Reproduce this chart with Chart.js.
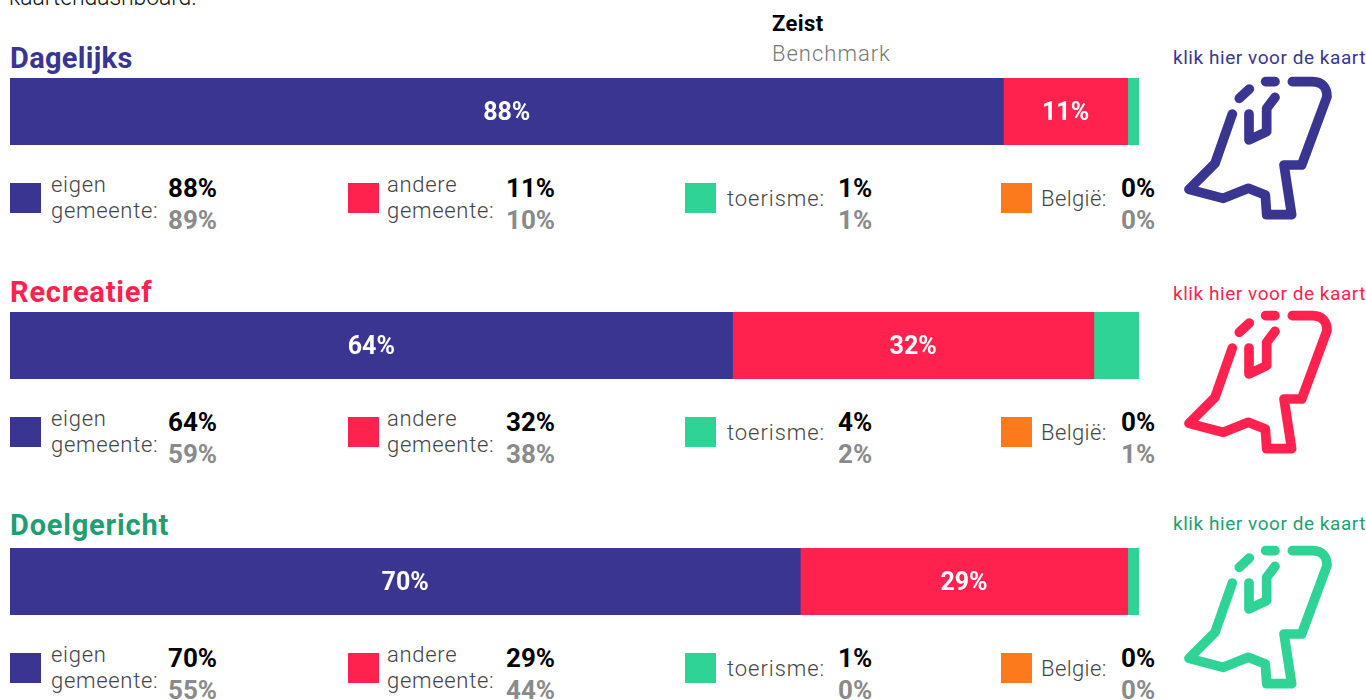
<!DOCTYPE html>
<html lang="nl">
<head>
<meta charset="utf-8">
<title>Verplaatsingen</title>
<script src="https://cdn.jsdelivr.net/npm/chart.js@4"></script>
<style>
    html, body { margin: 0; padding: 0; background: #fff; overflow: hidden; }
    body { width: 1366px; height: 700px; position: relative; font-family: Roboto, sans-serif; }
    canvas { position: absolute; left: 10px; }
    .txt { position: absolute; white-space: nowrap; line-height: 1; transform-origin: 0 0; }
    .swatch { position: absolute; width: 31px; height: 30px; }
    .map { position: absolute; left: 1150px; width: 216px; height: 190px; }
</style>
</head>
<body>
<script>
const titles = ["Dagelijks", "Recreatief", "Doelgericht"];
const categories = ["eigen gemeente", "andere gemeente", "toerisme", "België"];
const eigen = [88, 64, 70];
const andere = [11, 32, 29];
const toerisme = [1, 4, 1];
const belgie = [0, 0, 0];
const benchEigen = [89, 59, 55];
const benchAndere = [10, 38, 44];
const benchToerisme = [1, 2, 0];
const benchBelgie = [0, 1, 0];

const colors = ["#393591", "#ff224f", "#2fd396", "#fc7a1c"];
const titleColors = ["#393591", "#ff224f", "#1f9e73"];
const mapColors = ["#393591", "#ff224f", "#2fd396"];

const barTops = [78, 312, 548];
const titleTops = [44, 278, 511];
const swatchTops = [183, 417, 653];
const swatchLefts = [10, 348, 685, 1001];
const valueLefts = [168, 506, 838, 1121];
const mapTops = [40, 274, 509];
const linkTops = [48, 284, 514];

function addText(text, left, top, size, weight, color, spacing) {
    const el = document.createElement("div");
    el.className = "txt";
    el.textContent = text;
    el.style.left = left + "px";
    el.style.top = top + "px";
    el.style.fontSize = size + "px";
    el.style.fontWeight = weight;
    el.style.color = color;
    if (spacing) el.style.letterSpacing = spacing + "px";
    document.body.appendChild(el);
}

// white percentage inside the segments, small ones stay empty
const segmentLabels = {
    id: "segmentLabels",
    afterDatasetsDraw(chart) {
        const ctx = chart.ctx;
        ctx.save();
        ctx.font = "700 25px Roboto";
        ctx.fillStyle = "#fff";
        ctx.textAlign = "center";
        ctx.textBaseline = "middle";
        chart.data.datasets.forEach((ds, i) => {
            if (ds.data[0] < 5) return;
            const bar = chart.getDatasetMeta(i).data[0];
            ctx.fillText(ds.data[0] + "%", (bar.base + bar.x) / 2, bar.y + 2);
        });
        ctx.restore();
    },
};

function drawBar(row) {
    const canvas = document.createElement("canvas");
    canvas.width = 1129;
    canvas.height = 67;
    canvas.style.top = barTops[row] + "px";
    document.body.appendChild(canvas);
    const series = [eigen[row], andere[row], toerisme[row], belgie[row]];
    new Chart(canvas, {
        type: "bar",
        data: {
            labels: [titles[row]],
            datasets: categories.map((name, i) => ({
                label: name,
                data: [series[i]],
                backgroundColor: colors[i],
                borderWidth: 0,
                barPercentage: 1,
                categoryPercentage: 1,
            })),
        },
        options: {
            indexAxis: "y",
            responsive: false,
            animation: false,
            layout: { padding: 0 },
            scales: {
                x: { stacked: true, display: false, min: 0, max: 100 },
                y: { stacked: true, display: false },
            },
            plugins: { legend: { display: false }, tooltip: { enabled: false } },
        },
        plugins: [segmentLabels],
    });
}

function drawMap(row) {
    const svg = `<svg class="map" style="top:${mapTops[row]}px" viewBox="0 0 648 570" fill="none"
        stroke="${mapColors[row]}" stroke-width="29" stroke-linecap="round" stroke-linejoin="round">
        <path d="M427 125H488Q531 127 531 170L455 375H402L425 524H350L346 465L295 445L220 475L117 448L195 370L247 222"/>
        <path d="M297 222V300L350 275V205L375 172"/>
        <path d="M347 125H375"/>
        <path d="M268 175L298 147"/></svg>`;
    document.body.insertAdjacentHTML("beforeend", svg);
}

function drawLegend(row) {
    const top = swatchTops[row];
    const own = [eigen[row], andere[row], toerisme[row], belgie[row]];
    const bench = [benchEigen[row], benchAndere[row], benchToerisme[row], benchBelgie[row]];
    swatchLefts.forEach((left, i) => {
        const sw = document.createElement("div");
        sw.className = "swatch";
        sw.style.left = left + "px";
        sw.style.top = top + "px";
        sw.style.background = colors[i];
        document.body.appendChild(sw);
        addText(own[i] + "%", valueLefts[i], top - 8, 26, 700, "#000");
        addText(bench[i] + "%", valueLefts[i], top + 24, 26, 700, "#8a8a8a");
    });
    const label = "#444";
    addText("eigen", 51, top - 9, 22, 300, label, 0.7);
    addText("gemeente:", 51, top + 17, 22, 300, label, 0.7);
    addText("andere", 387, top - 9, 22, 300, label, 0.7);
    addText("gemeente:", 387, top + 17, 22, 300, label, 0.7);
    addText("toerisme:", 727, top + 5, 22, 300, label, 0.95);
    addText(row === 2 ? "Belgie:" : "België:", 1041, top + 5, 22, 300, label, 0.4);
}

addText("kaartendashboard.", 9, -14, 23, 300, "#111", -0.1);
addText("Zeist", 772, 13, 22, 700, "#000", 0.4);
addText("Benchmark", 772, 43, 22, 300, "#777", 1);

titles.forEach((title, row) => {
    addText(title, 10, titleTops[row], 29, 700, titleColors[row], row === 0 ? 0.3 : 0.8);
    addText("klik hier voor de kaart", 1173, linkTops[row], 19, 400, titleColors[row], 0.55);
    drawBar(row);
    drawLegend(row);
    drawMap(row);
});
</script>
</body>
</html>
